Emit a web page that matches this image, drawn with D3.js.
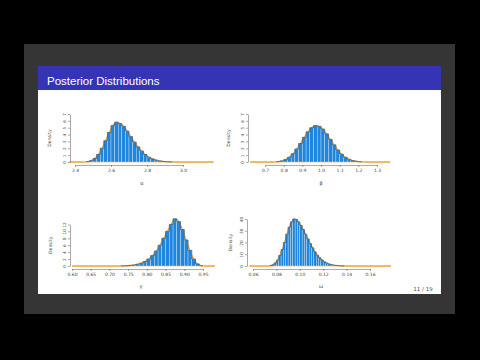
<!DOCTYPE html>
<html><head><meta charset="utf-8">
<script src="https://cdn.jsdelivr.net/npm/d3@7"></script>
<style>html,body{margin:0;padding:0;background:#000;}svg{display:block;}</style>
</head><body>
<script>
// ---------- data ----------
const title = "Posterior Distributions";
const pageLabel = "11 / 19";

const alphaBinLeft = [2.46,2.48,2.50,2.52,2.54,2.56,2.58,2.60,2.62,2.64,2.66,2.68,2.70,2.72,2.74,2.76,2.78,2.80,2.82,2.84,2.86,2.88,2.90,2.92];
const alphaDensity = [0.05,0.2,0.5,1.1,2.0,3.1,4.3,5.3,5.8,5.6,5.2,4.5,3.7,2.9,2.2,1.6,1.1,0.7,0.45,0.28,0.15,0.08,0.04,0.02];
const alphaTicks = [2.4,2.6,2.8,3.0];
const alphaTickLabels = ["2.4","2.6","2.8","3.0"];
const alphaYTicks = [0,1,2,3,4,5,6,7];

const betaBinLeft = [0.76,0.78,0.80,0.82,0.84,0.86,0.88,0.90,0.92,0.94,0.96,0.98,1.00,1.02,1.04,1.06,1.08,1.10,1.12,1.14,1.16,1.18,1.20];
const betaDensity = [0.06,0.15,0.35,0.7,1.2,1.9,2.7,3.6,4.4,5.0,5.3,5.2,4.8,4.1,3.3,2.5,1.75,1.15,0.7,0.4,0.2,0.1,0.04];
const betaTicks = [0.7,0.8,0.9,1.0,1.1,1.2,1.3];
const betaTickLabels = ["0.7","0.8","0.9","1.0","1.1","1.2","1.3"];
const betaYTicks = [0,1,2,3,4,5,6,7];

const gammaBinLeft = [0.73,0.74,0.75,0.76,0.77,0.78,0.79,0.80,0.81,0.82,0.83,0.84,0.85,0.86,0.87,0.88,0.89,0.90,0.91,0.92,0.93,0.94];
const gammaDensity = [0.03,0.07,0.15,0.28,0.5,0.8,1.3,2.0,3.0,4.3,6.0,8.0,10.0,12.0,13.6,12.8,10.5,7.5,4.5,2.0,0.6,0.12];
const gammaTicks = [0.60,0.65,0.70,0.75,0.80,0.85,0.90,0.95];
const gammaTickLabels = ["0.60","0.65","0.70","0.75","0.80","0.85","0.90","0.95"];
const gammaYTicks = [0,2,4,6,8,10,12];

const omegaBinLeft = [0.074,0.076,0.078,0.080,0.082,0.084,0.086,0.088,0.090,0.092,0.094,0.096,0.098,0.100,0.102,0.104,0.106,0.108,0.110,0.112,0.114,0.116,0.118,0.120,0.122,0.124,0.126,0.128,0.130,0.132,0.134,0.136];
const omegaDensity = [0.3,1,2.5,5,9,14,20,27,33,37.5,40,39.5,37.5,34.5,31,27,23,19,15.5,12,9.2,7,5.1,3.6,2.5,1.7,1.1,0.7,0.45,0.28,0.17,0.1];
const omegaTicks = [0.06,0.08,0.10,0.12,0.14,0.16];
const omegaTickLabels = ["0.06","0.08","0.10","0.12","0.14","0.16"];
const omegaYTicks = [0,10,20,30,40];

// ---------- layout ----------
const W = 480, H = 360;
const svg = d3.select("body").append("svg").attr("width", W).attr("height", H);
svg.append("rect").attr("width", W).attr("height", H).attr("fill", "#000");
svg.append("rect").attr("x", 24).attr("y", 44).attr("width", 431).attr("height", 270).attr("fill", "#353535");
svg.append("rect").attr("x", 38).attr("y", 66).attr("width", 403).attr("height", 228).attr("fill", "#fff");
svg.append("rect").attr("x", 38).attr("y", 66).attr("width", 403).attr("height", 24).attr("fill", "#3434B4");
svg.append("text").attr("x", 47).attr("y", 85).attr("fill", "#fff")
  .attr("font-family", "Liberation Sans, Arial, sans-serif").attr("font-size", 11.5).text(title);
svg.append("text").attr("x", 423).attr("y", 291).attr("text-anchor", "middle")
  .attr("font-family", "DejaVu Sans, sans-serif").attr("font-size", 5.5).attr("fill", "#555").text(pageLabel);

const panels = [
  {bins: alphaBinLeft, dens: alphaDensity, w: 0.02, ticks: alphaTicks, labels: alphaTickLabels, yTicks: alphaYTicks,
   xDom: [2.4, 3.0], xRng: [75, 183], yDom: [0, 7], yRng: [162, 114], ext: [2.37, 3.17],
   axisX: 70, axisY: 165, dLabelX: 51, name: "α", nameX: 142, nameY: 185},
  {bins: betaBinLeft, dens: betaDensity, w: 0.02, ticks: betaTicks, labels: betaTickLabels, yTicks: betaYTicks,
   xDom: [0.7, 1.3], xRng: [265, 377], yDom: [0, 7], yRng: [162, 114], ext: [0.62, 1.37],
   axisX: 248, axisY: 165, dLabelX: 230, name: "β", nameX: 321, nameY: 185},
  {bins: gammaBinLeft, dens: gammaDensity, w: 0.01, ticks: gammaTicks, labels: gammaTickLabels, yTicks: gammaYTicks,
   xDom: [0.60, 0.95], xRng: [72, 203], yDom: [0, 12], yRng: [266, 224.4], ext: [0.60, 0.982],
   axisX: 70, axisY: 269, dLabelX: 52, name: "γ", nameX: 141, nameY: 288},
  {bins: omegaBinLeft, dens: omegaDensity, w: 0.002, ticks: omegaTicks, labels: omegaTickLabels, yTicks: omegaYTicks,
   xDom: [0.06, 0.16], xRng: [253, 370], yDom: [0, 40], yRng: [266, 219], ext: [0.057, 0.178],
   axisX: 247, axisY: 269, dLabelX: 232, name: "ω", nameX: 321, nameY: 288}
];

const font = "DejaVu Sans, sans-serif";
panels.forEach(p => {
  const x = d3.scaleLinear().domain(p.xDom).range(p.xRng);
  const y = d3.scaleLinear().domain(p.yDom).range(p.yRng);
  const g = svg.append("g");

  // density curve (orange), drawn behind bars
  const pts = [[p.ext[0], 0], [p.bins[0] - p.w, 0]]
    .concat(p.bins.map((b, i) => [b + p.w / 2, p.dens[i]]))
    .concat([[p.bins[p.bins.length - 1] + 2 * p.w, 0], [p.ext[1], 0]]);
  const line = d3.line().x(d => x(d[0])).y(d => y(d[1])).curve(d3.curveMonotoneX);
  const area = d3.area().x(d => x(d[0])).y0(y(0) + 1.2).y1(d => y(d[1])).curve(d3.curveMonotoneX);
  g.append("path").attr("d", area(pts)).attr("fill", "#F6DDB6").attr("opacity", 0.8);
  g.append("path").attr("d", line(pts)).attr("fill", "none").attr("stroke", "#E9A93A").attr("stroke-width", 1.3);

  // bars
  g.selectAll("rect.bar").data(p.bins).join("rect")
    .attr("x", d => x(d)).attr("width", d => x(d + p.w) - x(d))
    .attr("y", (d, i) => y(p.dens[i])).attr("height", (d, i) => y(0) - y(p.dens[i]))
    .attr("fill", "#1E86DE").attr("stroke", "#E8F2FB").attr("stroke-width", 0.35);

  // dark step outline on top of bars
  const step = d3.line().x(d => x(d[0])).y(d => y(d[1])).curve(d3.curveStepAfter);
  const stepPts = p.bins.map((b, i) => [b, p.dens[i]]).concat([[p.bins[p.bins.length - 1] + p.w, p.dens[p.dens.length - 1]]]);
  g.append("path").attr("d", step(stepPts)).attr("fill", "none").attr("stroke", "#3a4a5a").attr("stroke-width", 0.7);

  // x axis
  const xa = d3.axisBottom(x).tickValues(p.ticks).tickFormat((d, i) => p.labels[i]).tickSize(2).tickSizeOuter(0);
  const gx = g.append("g").attr("transform", `translate(0,${p.axisY})`).call(xa);
  gx.select(".domain").attr("stroke", "#555").attr("stroke-width", 0.5);
  gx.selectAll(".tick line").attr("stroke", "#555").attr("stroke-width", 0.5);
  gx.selectAll("text").attr("font-family", font).attr("font-size", 4.5).attr("fill", "#444").attr("dy", "0.5em");

  // y axis
  const ya = d3.axisLeft(y).tickValues(p.yTicks).tickFormat(d3.format("d")).tickSize(2).tickSizeOuter(0);
  const gy = g.append("g").attr("transform", `translate(${p.axisX},0)`).call(ya);
  gy.select(".domain").attr("stroke", "#555").attr("stroke-width", 0.5);
  gy.selectAll(".tick line").attr("stroke", "#555").attr("stroke-width", 0.5);
  gy.selectAll("text").attr("font-family", font).attr("font-size", 4.2).attr("fill", "#444")
    .attr("text-anchor", "middle").attr("dy", 0).attr("x", 0)
    .attr("transform", "translate(-4.5,0) rotate(-90)");

  // labels
  const yMid = (p.yRng[0] + p.yRng[1]) / 2;
  g.append("text").attr("transform", `translate(${p.dLabelX},${yMid}) rotate(-90)`)
    .attr("text-anchor", "middle").attr("font-family", font).attr("font-size", 4.6).attr("fill", "#444").text("Density");
  g.append("text").attr("x", p.nameX).attr("y", p.nameY).attr("text-anchor", "middle")
    .attr("font-family", font).attr("font-size", 5).attr("fill", "#444").text(p.name);
});
</script>
</body></html>
